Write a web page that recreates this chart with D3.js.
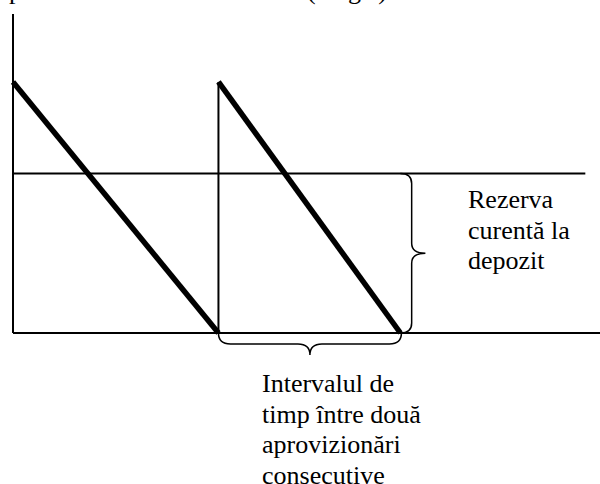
<!DOCTYPE html>
<html>
<head>
<meta charset="utf-8">
<script src="https://cdn.jsdelivr.net/npm/d3@7"></script>
<style>
  body { margin: 0; background: #fff; }
  text { font-family: "Liberation Serif", "Times New Roman", serif; fill: #000; }
</style>
</head>
<body>
<svg></svg>
<script>
// ----- Data ----- //
var stockTimes = [0, 35, 35, 66];          // replenishment cycle: start, empty, refill, empty
var stockLevels = [78.7, 0, 78.7, 0];
var reserveLevel = 50;
var reserveEnd = 97.5;
var axisMax = 100;
var reserveLabel = ['Rezerva', 'curentă la', 'depozit'];
var intervalLabel = ['Intervalul de', 'timp între două', 'aprovizionări', 'consecutive'];
var topFragments = ['p', '(fig.)'];

var svgWidth = 600;
var svgHeight = 484;

var svg = d3.select('svg')
  .attr('width', svgWidth)
  .attr('height', svgHeight);

var x = d3.scaleLinear().domain([0, axisMax]).range([13, 600]);
var y = d3.scaleLinear().domain([0, axisMax]).range([333, 14]);

// ----- Axes ----- //
svg.append('line')
  .attr('x1', x(0)).attr('y1', y(0))
  .attr('x2', x(0)).attr('y2', y(axisMax))
  .attr('stroke', '#000').attr('stroke-width', 2);

svg.append('line')
  .attr('x1', x(0)).attr('y1', y(0))
  .attr('x2', x(axisMax)).attr('y2', y(0))
  .attr('stroke', '#000').attr('stroke-width', 2);

// ----- Reserve level ----- //
svg.append('line')
  .attr('x1', x(0)).attr('y1', y(reserveLevel))
  .attr('x2', x(reserveEnd)).attr('y2', y(reserveLevel))
  .attr('stroke', '#000').attr('stroke-width', 1.8);

// ----- Refill (vertical) ----- //
svg.append('line')
  .attr('x1', x(stockTimes[2])).attr('y1', y(stockLevels[1]))
  .attr('x2', x(stockTimes[2])).attr('y2', y(stockLevels[2]))
  .attr('stroke', '#000').attr('stroke-width', 2);

// ----- Consumption (thick) ----- //
var segments = [[0, 1], [2, 3]];
svg.selectAll('line.use')
  .data(segments)
  .enter()
  .append('line')
  .attr('class', 'use')
  .attr('x1', function(d) { return x(stockTimes[d[0]]); })
  .attr('y1', function(d) { return y(stockLevels[d[0]]); })
  .attr('x2', function(d) { return x(stockTimes[d[1]]); })
  .attr('y2', function(d) { return y(stockLevels[d[1]]); })
  .attr('stroke', '#000').attr('stroke-width', 5.5);

// ----- Braces ----- //
function braceV(x0, y0, y1, depth) {
  var xs = x0 + depth * 0.45, xt = x0 + depth, ym = (y0 + y1) / 2, r = 10;
  var p = d3.path();
  p.moveTo(x0, y0);
  p.quadraticCurveTo(xs, y0, xs, y0 + r);
  p.lineTo(xs, ym - r);
  p.quadraticCurveTo(xs, ym, xt, ym);
  p.quadraticCurveTo(xs, ym, xs, ym + r);
  p.lineTo(xs, y1 - r);
  p.quadraticCurveTo(xs, y1, x0, y1);
  return p.toString();
}

function braceH(x0, x1, y0, depth) {
  var ys = y0 + depth * 0.5, yt = y0 + depth, xm = (x0 + x1) / 2, r = 12;
  var p = d3.path();
  p.moveTo(x0, y0);
  p.quadraticCurveTo(x0, ys, x0 + r, ys);
  p.lineTo(xm - r, ys);
  p.quadraticCurveTo(xm, ys, xm, yt);
  p.quadraticCurveTo(xm, ys, xm + r, ys);
  p.lineTo(x1 - r, ys);
  p.quadraticCurveTo(x1, ys, x1, y0);
  return p.toString();
}

svg.append('path')
  .attr('d', braceV(x(stockTimes[3]), y(reserveLevel), y(0), 25))
  .attr('fill', 'none').attr('stroke', '#000').attr('stroke-width', 1.5);

svg.append('path')
  .attr('d', braceH(x(stockTimes[2]), x(stockTimes[3]) + 1, y(0), 22))
  .attr('fill', 'none').attr('stroke', '#000').attr('stroke-width', 1.5);

// ----- Labels ----- //
svg.append('g')
  .selectAll('text')
  .data(reserveLabel)
  .enter()
  .append('text')
  .attr('x', 468)
  .attr('y', function(d, i) { return 208 + i * 30.5; })
  .style('font-size', '26px')
  .text(function(d) { return d; });

svg.append('g')
  .selectAll('text')
  .data(intervalLabel)
  .enter()
  .append('text')
  .attr('x', 262)
  .attr('y', function(d, i) { return 392 + i * 30.5; })
  .style('font-size', '26px')
  .text(function(d) { return d; });

// clipped caption line at the very top
svg.append('text')
  .attr('x', 9).attr('y', -1)
  .style('font-size', '26px')
  .text(topFragments[0]);

svg.append('text')
  .attr('x', 307).attr('y', -1)
  .attr('textLength', 80).attr('lengthAdjust', 'spacing')
  .style('font-size', '26px')
  .text(topFragments[1]);
</script>
</body>
</html>
